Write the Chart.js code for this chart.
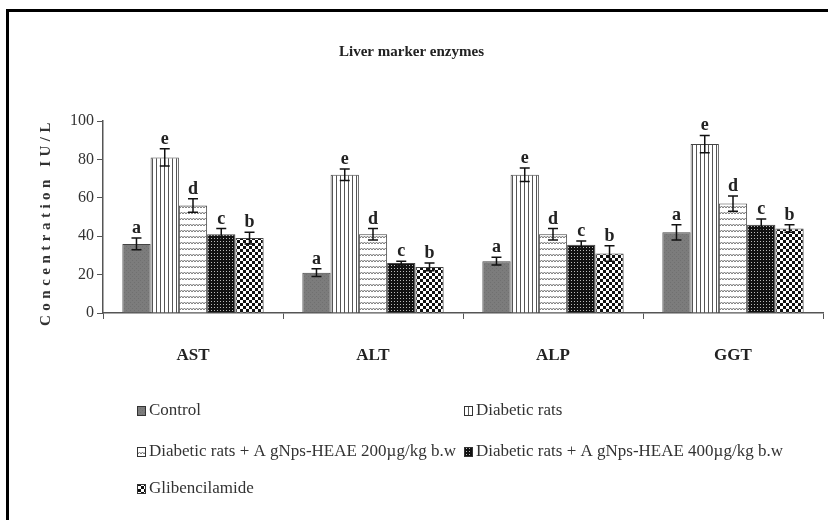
<!DOCTYPE html>
<html>
<head>
<meta charset="utf-8">
<script src="https://cdn.jsdelivr.net/npm/chart.js@4/dist/chart.umd.min.js"></script>
<style>
  body { margin: 0; background: #fff; }
  #wrap { position: relative; width: 828px; height: 520px; }
  #frame { position: absolute; left: 6px; top: 9px; width: 830px; height: 520px;
           border-top: 3px solid #000; border-left: 3px solid #000; pointer-events: none; }
</style>
</head>
<body>
<div id="wrap">
  <canvas id="chart" width="828" height="520"></canvas>
  <div id="frame"></div>
</div>
<script>
// data
const categories = ["AST", "ALT", "ALP", "GGT"];
const seriesNames = [
  "Control",
  "Diabetic rats",
  "Diabetic rats + A gNps-HEAE 200µg/kg b.w",
  "Diabetic rats + A gNps-HEAE 400µg/kg b.w",
  "Glibencilamide"
];
const control   = [36, 21, 27, 42];
const diabetic  = [81, 72, 72, 88];
const dose200   = [56, 41, 41, 57];
const dose400   = [41, 26, 35.5, 46];
const gliben    = [39, 24, 31, 44];
const controlErr  = [3, 2, 2, 4];
const diabeticErr = [4.5, 3, 3.5, 4.5];
const dose200Err  = [3.5, 3, 3, 4];
const dose400Err  = [3, 1, 2, 3];
const glibenErr   = [3, 2, 4, 2];
const letters = ["a", "e", "d", "c", "b"];
const yTicks = [0, 20, 40, 60, 80, 100];

// ---- fill patterns ----
function makePattern(w, h, draw) {
  const c = document.createElement("canvas");
  c.width = w; c.height = h;
  const g = c.getContext("2d");
  draw(g);
  return document.getElementById("chart").getContext("2d").createPattern(c, "repeat");
}
const patControl = makePattern(4, 4, g => {
  g.fillStyle = "#7c7c7c"; g.fillRect(0, 0, 4, 4);
  g.fillStyle = "#707070"; g.fillRect(0, 0, 1, 1); g.fillRect(2, 2, 1, 1);
});
const patDiabetic = makePattern(4, 4, g => {
  g.fillStyle = "#fff"; g.fillRect(0, 0, 4, 4);
  g.fillStyle = "#555"; g.fillRect(0, 0, 1, 4);
});
const pat200 = makePattern(6, 6, g => {
  g.fillStyle = "#fff"; g.fillRect(0, 0, 6, 6);
  g.strokeStyle = "#777"; g.lineWidth = 1;
  g.beginPath(); g.moveTo(0, 4); g.lineTo(1.5, 2); g.lineTo(3, 4); g.lineTo(4.5, 2); g.lineTo(6, 4); g.stroke();
});
const pat400 = makePattern(3, 3, g => {
  g.fillStyle = "#111"; g.fillRect(0, 0, 3, 3);
  g.fillStyle = "#bbb"; g.fillRect(1, 1, 1, 1);
});
const patGliben = makePattern(6, 6, g => {
  g.fillStyle = "#111"; g.fillRect(0, 0, 6, 6);
  g.fillStyle = "#fff"; g.fillRect(0, 0, 3, 3); g.fillRect(3, 3, 3, 3);
});

const values = [control, diabetic, dose200, dose400, gliben];
const errors = [controlErr, diabeticErr, dose200Err, dose400Err, glibenErr];
const fills = [patControl, patDiabetic, pat200, pat400, patGliben];

const serif = "'Liberation Serif', 'DejaVu Serif', serif";

// error bars + significance letters
const errorBars = {
  id: "errorBars",
  afterDatasetsDraw(chart) {
    const ctx = chart.ctx;
    const y = chart.scales.y;
    ctx.save();
    ctx.strokeStyle = "#111";
    ctx.lineWidth = 1.5;
    ctx.fillStyle = "#222";
    ctx.font = "bold 18px " + serif;
    ctx.textAlign = "center";
    ctx.textBaseline = "alphabetic";
    values.forEach((vals, i) => {
      chart.getDatasetMeta(i).data.forEach((bar, j) => {
        const top = y.getPixelForValue(vals[j] + errors[i][j]);
        const bot = y.getPixelForValue(vals[j] - errors[i][j]);
        ctx.beginPath();
        ctx.moveTo(bar.x, top); ctx.lineTo(bar.x, bot);
        ctx.moveTo(bar.x - 5, top); ctx.lineTo(bar.x + 5, top);
        ctx.moveTo(bar.x - 5, bot); ctx.lineTo(bar.x + 5, bot);
        ctx.stroke();
        ctx.fillText(letters[i], bar.x, top - 5);
      });
    });
    ctx.restore();
  }
};

// y title with spaced letters, and the two-column legend
const extras = {
  id: "extras",
  afterDraw(chart) {
    const ctx = chart.ctx;
    ctx.save();
    ctx.fillStyle = "#333";
    ctx.font = "bold 15px " + serif;
    ctx.letterSpacing = "4.5px";
    ctx.translate(46, 222);
    ctx.rotate(-Math.PI / 2);
    ctx.textAlign = "center";
    ctx.textBaseline = "middle";
    ctx.fillText("Concentration IU/L", 0, 0);
    ctx.restore();

    const pos = [[137, 411], [464, 411], [137, 452], [464, 452], [137, 489]];
    ctx.save();
    ctx.font = "17px " + serif;
    ctx.textBaseline = "middle";
    seriesNames.forEach((name, i) => {
      const [x, yy] = pos[i];
      ctx.fillStyle = fills[i];
      ctx.fillRect(x, yy - 5, 9, 10);
      ctx.strokeStyle = "#333";
      ctx.lineWidth = 1;
      ctx.strokeRect(x + 0.5, yy - 4.5, 8, 9);
      ctx.fillStyle = "#333";
      ctx.fillText(name, x + 12, yy);
    });
    ctx.restore();
  }
};

new Chart(document.getElementById("chart"), {
  type: "bar",
  data: {
    labels: categories,
    datasets: values.map((v, i) => ({
      label: seriesNames[i],
      data: v,
      backgroundColor: fills[i],
      borderColor: "#444",
      borderWidth: 1,
      barPercentage: 1,
      categoryPercentage: 0.785
    }))
  },
  options: {
    responsive: false,
    animation: false,
    layout: { padding: { left: 0, right: 5, top: 0, bottom: 0 } },
    plugins: {
      legend: { display: false },
      tooltip: { enabled: false },
      title: {
        display: true,
        text: "Liver marker enzymes",
        color: "#222",
        font: { family: serif, size: 15, weight: "bold" },
        padding: { top: 43, bottom: 60 }
      }
    },
    scales: {
      x: {
        grid: { display: true, drawOnChartArea: false, drawTicks: true, tickLength: 6, color: "#555", offset: true },
        border: { color: "#555", width: 1.5 },
        ticks: { color: "#222", padding: 26, font: { family: serif, size: 17, weight: "bold" } },
        afterFit(scale) { scale.height = 207; }
      },
      y: {
        min: 0, max: 100,
        afterBuildTicks(scale) { scale.ticks = yTicks.map(v => ({ value: v })); },
        grid: { display: true, drawOnChartArea: false, drawTicks: true, tickLength: 6, color: "#555" },
        border: { color: "#555", width: 1.5 },
        ticks: { color: "#333", padding: 3, font: { family: serif, size: 16 } },
        afterFit(scale) { scale.width = 103; }
      }
    }
  },
  plugins: [errorBars, extras]
});
</script>
</body>
</html>
